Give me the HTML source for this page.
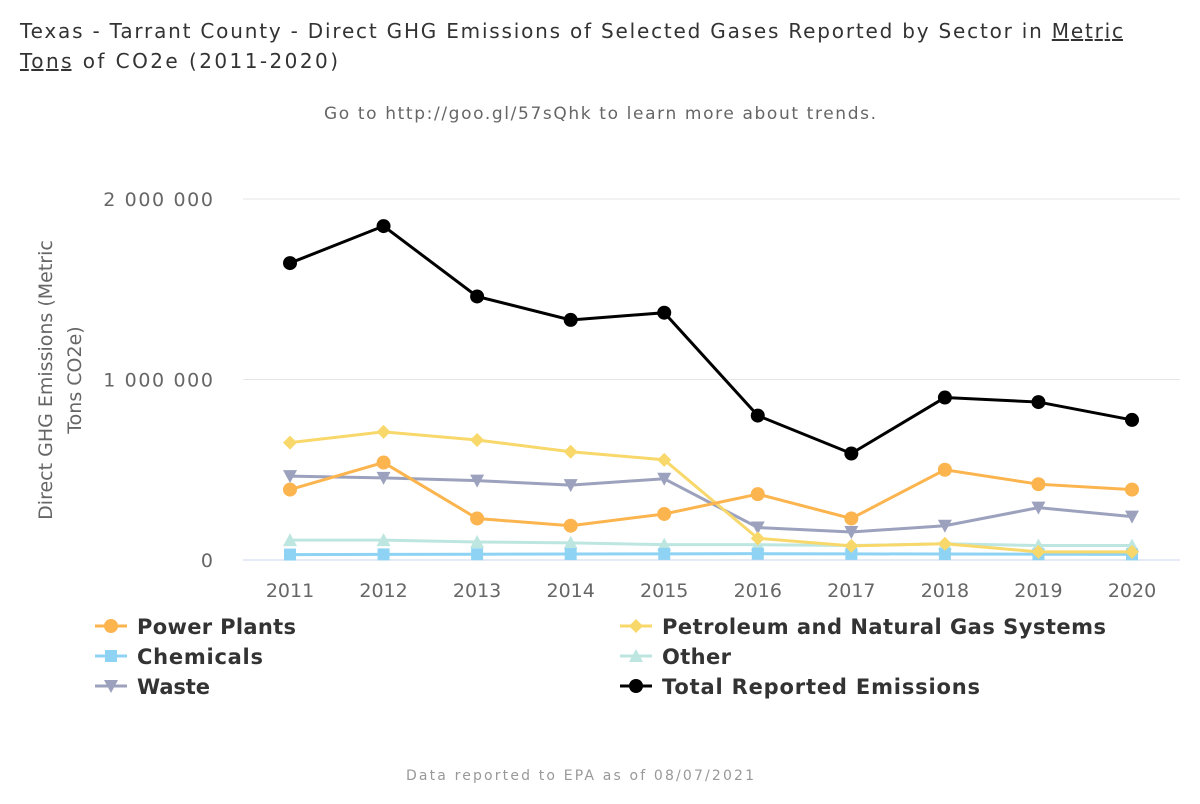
<!DOCTYPE html>
<html><head><meta charset="utf-8"><style>
body{margin:0;background:#fff;font-family:"DejaVu Sans","Liberation Sans",sans-serif;}
svg text{font-family:"DejaVu Sans","Liberation Sans",sans-serif;}
</style></head><body>
<svg id="chart" width="1200" height="800" viewBox="0 0 1200 800">
<text x="20" y="38" font-size="20" fill="#333" textLength="1103" lengthAdjust="spacing">Texas - Tarrant County - Direct GHG Emissions of Selected Gases Reported by Sector in <tspan text-decoration="underline">Metric</tspan></text>
<text x="20" y="68" font-size="20" fill="#333" textLength="318" lengthAdjust="spacing"><tspan text-decoration="underline">Tons</tspan> of CO2e (2011-2020)</text>
<text x="324" y="119" font-size="17" fill="#666" textLength="552" lengthAdjust="spacing">Go to http://goo.gl/57sQhk to learn more about trends.</text>
<text x="406" y="780" font-size="14" fill="#999" textLength="348" lengthAdjust="spacing">Data reported to EPA as of 08/07/2021</text>
<text transform="translate(52,380) rotate(-90)" font-size="19" fill="#666" text-anchor="middle"><tspan x="0" dy="0">Direct GHG Emissions (Metric</tspan><tspan x="0" dy="29">Tons CO2e)</tspan></text>
<g id="grid"></g><g id="axes"></g><g id="series"></g><g id="legend"></g>
</svg>
<script>
const years=[2011,2012,2013,2014,2015,2016,2017,2018,2019,2020];
const yTicks=[0,1000000,2000000];
const yTickLabels=["0","1 000 000","2 000 000"];
const powerPlants=[390000,540000,230000,190000,255000,365000,230000,500000,420000,390000];
const petroleum=[650000,710000,665000,600000,555000,120000,78000,90000,45000,45000];
const chemicals=[30000,31000,32000,33000,34000,35000,34000,33000,32000,31000];
const other=[110000,110000,100000,95000,85000,85000,80000,90000,80000,80000];
const waste=[465000,455000,440000,415000,450000,180000,155000,190000,290000,240000];
const total=[1645000,1850000,1460000,1330000,1370000,800000,590000,900000,875000,776000];
const NS="http://www.w3.org/2000/svg";
const X=i=>290+i*(1132-290)/(years.length-1);
const Y=v=>560-v*(560-199)/2000000;
function el(t,a,p){const e=document.createElementNS(NS,t);for(const k in a)e.setAttribute(k,a[k]);p.appendChild(e);return e;}
const grid=document.getElementById('grid'),axes=document.getElementById('axes'),ser=document.getElementById('series'),leg=document.getElementById('legend');
yTicks.forEach((v,i)=>{
 const l=el('line',{x1:243,x2:1180,y1:Y(v),y2:Y(v),stroke:i==0?'#ccd6eb':'#e6e6e6','stroke-width':1},grid);
 
 
 const t=el('text',{x:213,y:Y(v)+7,'font-size':19,fill:'#666','text-anchor':'end'},axes);
 if(yTickLabels[i].length>1){t.setAttribute('textLength',yTickLabels[i].length*12.2);t.setAttribute('lengthAdjust','spacing');}
 t.textContent=yTickLabels[i];
 
 
});
years.forEach((yr,i)=>{
 const t=el('text',{x:X(i),y:597,'font-size':19,fill:'#666','text-anchor':'middle'},axes);
 t.textContent=yr;
 
 
});
function marker(shape,x,y,c,p){
 let m;
 if(shape=='circle')m=el('circle',{cx:x,cy:y,r:7,fill:c},p);
 else if(shape=='diamond')m=el('path',{d:`M${x},${y-7}L${x+7},${y}L${x},${y+7}L${x-7},${y}Z`,fill:c},p);
 else if(shape=='square')m=el('rect',{x:x-6,y:y-6,width:12,height:12,fill:c},p);
 else if(shape=='triangle')m=el('path',{d:`M${x},${y-7}L${x+7},${y+6}L${x-7},${y+6}Z`,fill:c},p);
 else m=el('path',{d:`M${x-7},${y-6}L${x+7},${y-6}L${x},${y+7}Z`,fill:c},p);
 return m;
}
const S=[
 {n:'Power Plants',d:powerPlants,c:'#fbb44e',s:'circle',lx:95,ly:626,k:'power-plants'},
 {n:'Petroleum and Natural Gas Systems',d:petroleum,c:'#f8d86a',s:'diamond',lx:620,ly:626,k:'petroleum'},
 {n:'Chemicals',d:chemicals,c:'#8fd3f4',s:'square',lx:95,ly:656,k:'chemicals'},
 {n:'Other',d:other,c:'#bde6e0',s:'triangle',lx:620,ly:656,k:'other'},
 {n:'Waste',d:waste,c:'#9ca2bd',s:'tridown',lx:95,ly:686,k:'waste'},
 {n:'Total Reported Emissions',d:total,c:'#000',s:'circle',lx:620,ly:686,k:'total'}
];
const order=[4,3,2,1,0,5];
order.forEach(si=>{const s=S[si];
 const g=el('g',{},ser);
 
 
 const pl=el('polyline',{points:s.d.map((v,i)=>X(i)+','+Y(v)).join(' '),fill:'none',stroke:s.c,'stroke-width':3},g);
 
 
 s.d.forEach((v,i)=>{const m=marker(s.s,X(i),Y(v),s.c,g);
  
  });
});
const legW={'power-plants':159,'petroleum':444,'chemicals':126,'other':69,'waste':73,'total':318};
S.forEach(s=>{
 const g=el('g',{},leg);
 
 
 el('line',{x1:s.lx,x2:s.lx+32,y1:s.ly,y2:s.ly,stroke:s.c,'stroke-width':3},g);
 marker(s.s,s.lx+16,s.ly,s.c,g);
 const t=el('text',{x:s.lx+42,y:s.ly+8,'font-size':21,'font-weight':'bold',fill:'#333',textLength:legW[s.k],lengthAdjust:'spacing'},g);
 t.textContent=s.n;
});
</script>
</body></html>
